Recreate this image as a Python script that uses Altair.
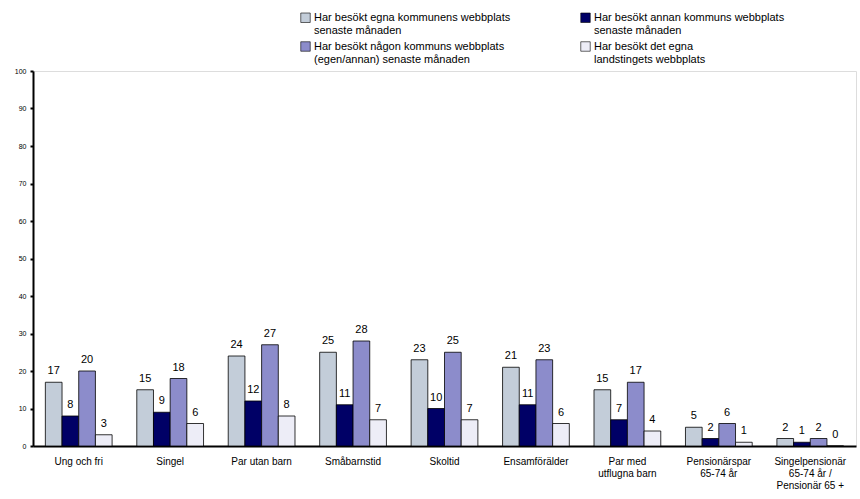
import altair as alt
import pandas as pd

categories = [
    "Ung och fri",
    "Singel",
    "Par utan barn",
    "Småbarnstid",
    "Skoltid",
    "Ensamförälder",
    "Par med\nutflugna barn",
    "Pensionärspar\n65-74 år",
    "Singelpensionär\n65-74 år /\nPensionär 65 +",
]

series = [
    "Har besökt egna kommunens webbplats\nsenaste månaden",
    "Har besökt annan kommuns webbplats\nsenaste månaden",
    "Har besökt någon kommuns webbplats\n(egen/annan) senaste månaden",
    "Har besökt det egna\nlandstingets webbplats",
]

egna_kommunen = [17, 15, 24, 25, 23, 21, 15, 5, 2]
annan_kommun = [8, 9, 12, 11, 10, 11, 7, 2, 1]
nagon_kommun = [20, 18, 27, 28, 25, 23, 17, 6, 2]
landstinget = [3, 6, 8, 7, 7, 6, 4, 1, 0]

colors = ["#C3CDD9", "#000066", "#8C8CCB", "#EDEDF7"]

values = [egna_kommunen, annan_kommun, nagon_kommun, landstinget]
rows = []
for s, vals in zip(series, values):
    for c, v in zip(categories, vals):
        rows.append({"grupp": c, "serie": s, "andel": v})
df = pd.DataFrame(rows)

font = "Liberation Sans"

x = alt.X(
    "grupp:N",
    sort=categories,
    title=None,
    scale=alt.Scale(paddingInner=0.27, paddingOuter=0.135),
    axis=alt.Axis(
        labelExpr="split(datum.label, '\\n')",
        labelAngle=0,
        labelFontSize=10,
        labelFont=font,
        labelColor="#000000",
        labelPadding=10,
        labelLineHeight=12,
        labelBaseline="top",
        ticks=False,
        domainColor="#000000",
        domainWidth=2,
        labelLimit=200,
    ),
)
xo = alt.XOffset("serie:N", sort=series)

y = alt.Y(
    "andel:Q",
    title=None,
    scale=alt.Scale(domain=[0, 100], nice=False),
    axis=alt.Axis(
        values=list(range(0, 101, 10)),
        grid=False,
        labelOverlap=False,
        labelFontSize=7,
        labelFont=font,
        labelColor="#000000",
        tickColor="#000000",
        tickSize=3,
        tickWidth=2,
        domainColor="#000000",
        domainWidth=2,
        labelPadding=4,
    ),
)

bars = alt.Chart(df).mark_bar(stroke="#000000", strokeWidth=0.8).encode(
    x=x,
    xOffset=xo,
    y=y,
    color=alt.Color(
        "serie:N",
        sort=series,
        scale=alt.Scale(domain=series, range=colors),
        legend=alt.Legend(
            title=None,
            orient="none",
            direction="horizontal",
            legendX=267,
            legendY=-59,
            columns=2,
            columnPadding=68,
            rowPadding=4,
            symbolType="square",
            symbolSize=90,
            symbolStrokeColor="#000000",
            symbolStrokeWidth=0.6,
            labelExpr="split(datum.label, '\\n')",
            labelFontSize=11,
            labelFont=font,
            labelColor="#000000",
            labelLimit=400,
            labelOffset=3,
        ),
    ),
)

labels = alt.Chart(df).mark_text(
    dy=-6, fontSize=11, font=font, color="#000000", baseline="bottom"
).encode(
    x=x,
    xOffset=xo,
    y=y,
    text="andel:Q",
)

chart = (
    alt.layer(bars, labels)
    .properties(
        width=823,
        height=375,
        autosize=alt.AutoSizeParams(type="none"),
        padding={"left": 33, "top": 71, "right": 4, "bottom": 53},
    )
    .configure_view(stroke=None)
    .configure(background="#ffffff")
)

chart.save("out.html", embed_options={"renderer": "svg", "actions": False})
